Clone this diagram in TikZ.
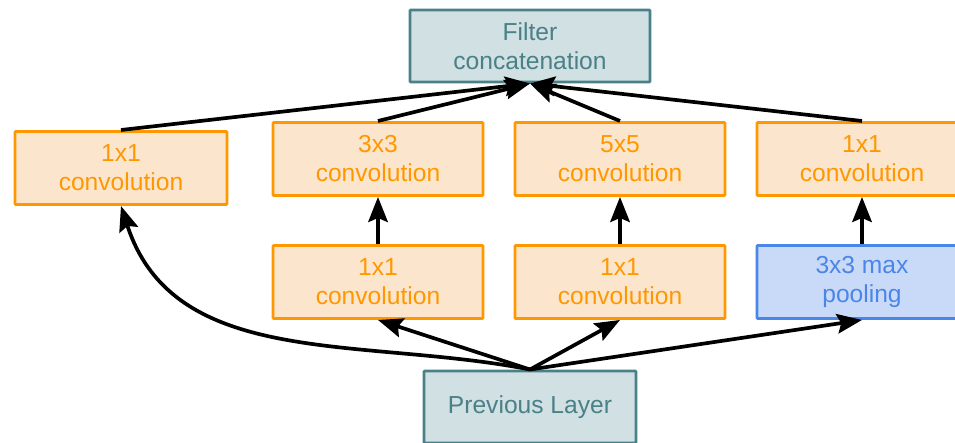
\documentclass[tikz,border=0pt]{standalone}
\usepackage{fontspec}
\setmainfont{Liberation Sans}
\usepackage{tikz}
\usetikzlibrary{arrows.meta,positioning}
\definecolor{convline}{RGB}{255,152,0}
\definecolor{convfill}{RGB}{252,229,205}
\definecolor{layline}{RGB}{74,128,136}
\definecolor{layfill}{RGB}{208,224,227}
\definecolor{poolline}{RGB}{74,134,232}
\definecolor{poolfill}{RGB}{201,218,248}
\tikzstyle{box}=[rectangle, rounded corners=0.5pt, line width=1.7pt, inner sep=0pt, align=center, font=\fontsize{14}{16.5}\selectfont]
\tikzstyle{conv}=[box, draw=convline, fill=convfill, text=convline, minimum width=4.2cm, minimum height=1.46cm]
\tikzstyle{pool}=[box, draw=poolline, fill=poolfill, text=poolline, minimum width=4.2cm, minimum height=1.46cm]
\tikzstyle{lay}=[box, draw=layline, fill=layfill, text=layline, minimum height=1.44cm]

\begin{document}
\begin{tikzpicture}
[->, node distance = 4.84cm, >={Stealth[length=5mm,width=3.9mm,inset=0.8mm]}, line width=2.1pt]
\useasboundingbox (0,0) rectangle (19.1,8.86);
\clip (0,0) rectangle (19.1,8.86);
\node[lay, minimum width=4.8cm] (concat) at (10.6,7.94) {Filter\\concatenation};
\node[conv, minimum width=4.24cm] (c1) at (2.42,5.5) {1x1\\convolution};
\node[conv] (c3) at (7.56,5.68) {3x3\\convolution};
\node[conv] [right of =c3] (c5) {5x5\\convolution};
\node[conv] [right of =c5] (cp) {1x1\\convolution};
\node[conv] [below of =c3, node distance=2.46cm] (r3) {1x1\\convolution};
\node[conv] [below of =c5, node distance=2.46cm] (r5) {1x1\\convolution};
\node[pool] [below of =cp, node distance=2.46cm] (mp) {3x3 max\\pooling};
\node[lay, minimum width=4.24cm] (prev) at (10.6,0.72) {Previous Layer};
\path{
(c1.north) edge (concat.south)
(c3.north) edge (concat.south)
(c5.north) edge (concat.south)
(cp.north) edge (concat.south)
(r3) edge (c3)
(r5) edge (c5)
(mp) edge (cp)
(prev.north) edge (r3.south)
(prev.north) edge (r5.south)
(prev.north) edge (mp.south)
(prev.north) edge [out=169, in=-72] (c1.south)
};
\end{tikzpicture}
\end{document}
